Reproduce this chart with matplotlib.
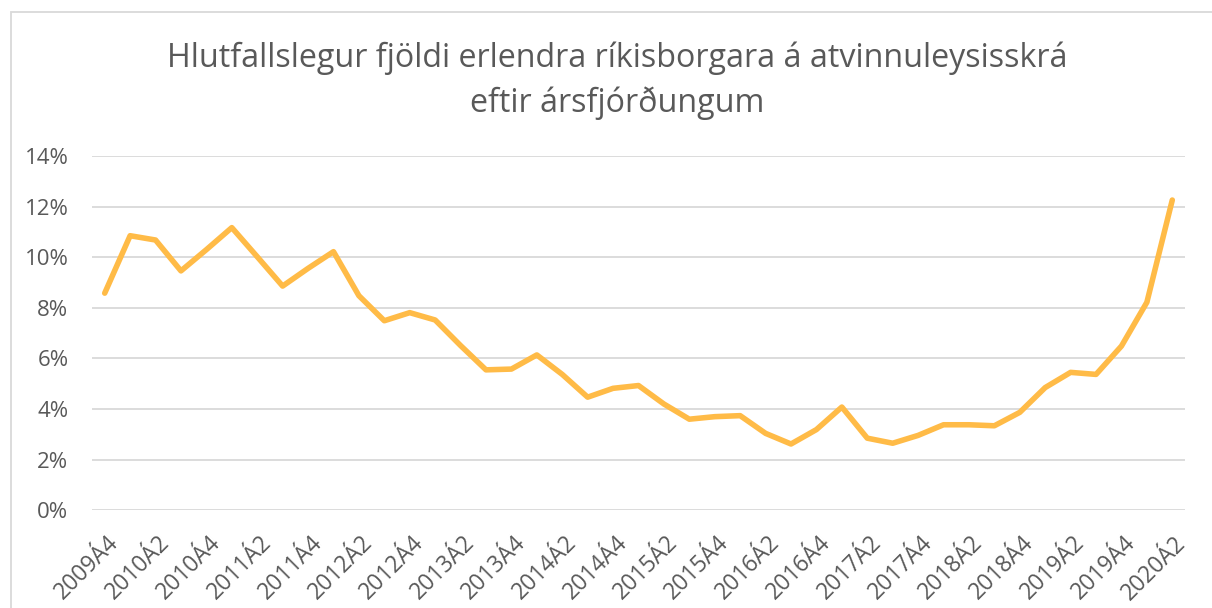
import matplotlib
matplotlib.use("Agg")
import matplotlib.pyplot as plt
from matplotlib.ticker import FuncFormatter, MultipleLocator
from matplotlib.patches import Rectangle
import matplotlib.transforms as mtransforms

plt.rcParams['font.family'] = ['Open Sans', 'DejaVu Sans']

title = "Hlutfallslegur fjöldi erlendra ríkisborgara á atvinnuleysisskrá\neftir ársfjórðungum"

years = list(range(2009, 2021))
quarters = []
for y in years:
    for q in range(1, 5):
        if (y == 2009 and q < 4) or (y == 2020 and q > 2):
            continue
        quarters.append(f"{y}Á{q}")

values = [8.58, 10.85, 10.68, 9.46, 10.30, 11.17, 10.02, 8.86, 9.56, 10.22,
          8.48, 7.49, 7.81, 7.52, 6.51, 5.55, 5.58, 6.14, 5.37, 4.47,
          4.82, 4.93, 4.20, 3.60, 3.70, 3.74, 3.04, 2.62, 3.19, 4.08,
          2.85, 2.65, 2.96, 3.38, 3.38, 3.34, 3.87, 4.85, 5.45, 5.37,
          6.49, 8.22, 12.26]

W, H = 1212, 608
fig = plt.figure(figsize=(W / 100, H / 100), dpi=100)
fig.patch.set_facecolor('white')

# chart border (left & top visible)
fig.add_artist(Rectangle((11 / W, -0.1), 1.2, (H - 12) / H + 0.1, transform=fig.transFigure,
                         fill=False, edgecolor='#d9d9d9', linewidth=1.3))

ax = fig.add_axes([92 / W, (H - 510.3) / H, (1185 - 92) / W, (510.3 - 156) / H])
x = list(range(len(quarters)))
ax.plot(x, values, color='#FFBB47', linewidth=4.0, solid_joinstyle='round', solid_capstyle='round', zorder=3)

ax.set_xlim(-0.5, len(quarters) - 0.5)
ax.set_ylim(0, 14)
ax.yaxis.set_major_locator(MultipleLocator(2))
ax.yaxis.set_major_formatter(FuncFormatter(lambda v, p: f"{v:.0f}%"))
ax.grid(axis='y', color='#d9d9d9', linewidth=1.3)
ax.set_axisbelow(True)
for s in ax.spines.values():
    s.set_visible(False)

ax.set_xticks(x[::2])
ax.set_xticklabels(quarters[::2], rotation=45, ha='right', rotation_mode='anchor')
ax.tick_params(axis='x', length=0, pad=15, labelsize=16.5, labelcolor='#595959')
ax.tick_params(axis='y', length=0, pad=17, labelsize=16, labelcolor='#595959')

offset = mtransforms.ScaledTranslation(2 / 100, 0, fig.dpi_scale_trans)
for lab in ax.get_xticklabels():
    lab.set_transform(lab.get_transform() + offset)

fig.text(617 / W, 1 - 81 / H, title, ha='center', va='center', fontsize=23.2,
         color='#595959', linespacing=1.45)

fig.savefig('out.png', dpi=100)
